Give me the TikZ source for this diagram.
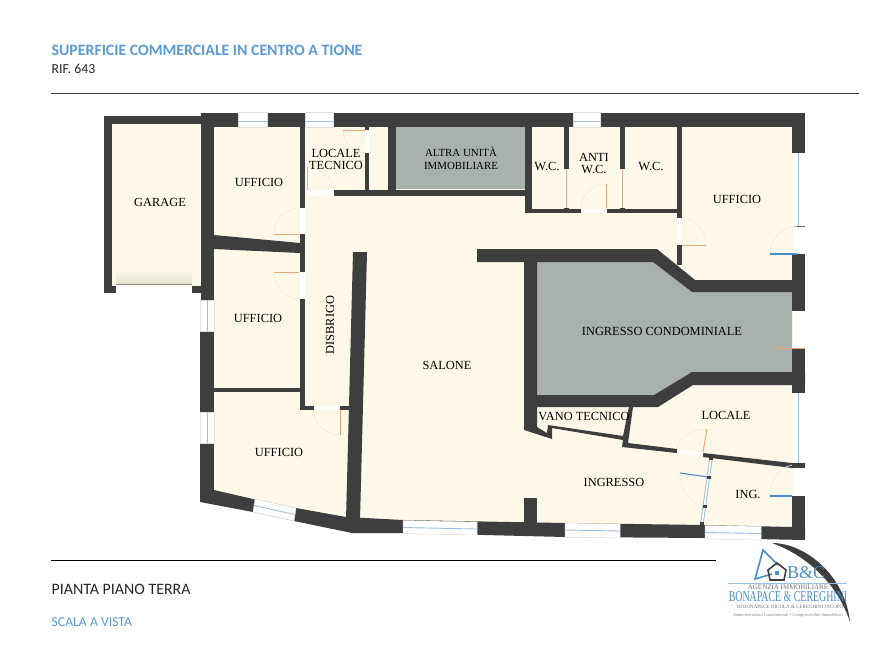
\documentclass[tikz,border=0pt]{standalone}
\usepackage{fontspec}
\setmainfont{Liberation Serif}
\newfontfamily\headfont{Carlito}
\usetikzlibrary{positioning}
\definecolor{wallgray}{HTML}{3E3E3E}
\definecolor{floorcream}{HTML}{FDF8E8}
\definecolor{roomgray}{HTML}{A9B1AC}
\definecolor{doororange}{HTML}{E8A878}
\definecolor{glassblue}{HTML}{9CC0E0}
\definecolor{doorblue}{HTML}{4A8CCB}
\definecolor{headblue}{HTML}{5B9BD5}
\definecolor{swingtan}{HTML}{F1EEDC}
\definecolor{shuttercream}{HTML}{E4E2CE}
\tikzset{
  wall/.style={fill=wallgray},
  windowpane/.style={fill=white,draw=black!12,line width=0.5pt},
  glassline/.style={draw=glassblue,line width=0.9pt},
  opening/.style={fill=white},
  leaf/.style={draw=doororange,line width=1pt},
  blueleaf/.style={draw=doorblue,line width=1.1pt},
  swing/.style={draw=swingtan,line width=0.7pt},
  roomlabel/.style={font=\fontsize{12.4}{12.6}\selectfont,text=black,align=center,inner sep=0pt},
  headtext/.style={font=\headfont\fontsize{#1}{#1}\selectfont,anchor=west,inner sep=0pt}
}
\begin{document}
\begin{tikzpicture}[x=1pt,y=-1pt]
\useasboundingbox (0,0) rectangle (893,670);

\fill[floorcream] (104,116) -- (201,116) -- (201,113) -- (805,113) -- (805,540) -- (705,538) -- (352,533) -- (294,521) -- (253,512) -- (200,502) -- (200,300) -- (201,293) -- (104,293) -- cycle;
\shade[top color=floorcream,bottom color=shuttercream] (116,270) rectangle (192,284);
\draw[black!45,line width=0.6pt] (116,284.5) -- (192,284.5);

% grey rooms
\fill[roomgray] (396,127) rectangle (525,189);
\fill[roomgray] (537,262) -- (653,262) -- (692,292) -- (792,292) -- (792,372) -- (692,372) -- (654,395) -- (537,395) -- cycle;

% outer walls
\fill[wall] (104,116) rectangle (201,124);
\fill[wall] (104,116) rectangle (112,293);
\fill[wall] (104,286) rectangle (116,293);
\fill[wall] (192,286) rectangle (201,293);
\fill[wall] (201,113) rectangle (214,300);
\fill[wall] (201,113) rectangle (805,127);
\fill[wall] (792,113) rectangle (805,153);
\fill[wall] (792,254) rectangle (805,311);
\fill[wall] (792,348) rectangle (805,393);
\fill[wall] (792,496) rectangle (805,540);
\fill[wall] (200,300) rectangle (214,502);
\fill[wall] (200,490) -- (214,490) -- (253,499) -- (296,508) -- (346,517) -- (403,520) -- (565,523) -- (705,525) -- (792,527) -- (805,527) -- (805,540) -- (705,538) -- (565,537) -- (403,533) -- (352,533) -- (294,521) -- (253,512) -- (200,502) -- cycle;

% inner walls
\fill[wall] (214,235) -- (300,243) -- (300,253) -- (214,249) -- cycle;
\fill[wall] (214,388) rectangle (300,392);
\fill[wall] (300,127) rectangle (304.5,410);
\fill[wall] (300,406) rectangle (314,410);
\fill[wall] (340,406) rectangle (352,410);
\fill[wall] (353,252) -- (367,252) -- (360,520) -- (346,520) -- cycle;
\fill[wall] (334,190) rectangle (527,196);
\fill[wall] (365,127) rectangle (369,196);
\fill[wall] (388,127) rectangle (396,196);
\fill[wall] (525,127) rectangle (532,213);
\fill[wall] (525,208.5) rectangle (680,213);
\fill[wall] (564,127) rectangle (569,208.5);
\fill[wall] (620,127) rectangle (624.5,208.5);
\fill[wall] (677,127) rectangle (682,265);
\fill[wall] (477,249) -- (657,249) -- (695,280) -- (792,280) -- (792,292) -- (692,292) -- (653,262) -- (537,262) -- (537,427) -- (547,433) -- (548,425) -- (623,436) -- (629,407) -- (633,407) -- (628,443) -- (677,449) -- (677,453) -- (622,447) -- (623,440) -- (552,428) -- (552,439) -- (524,430) -- (524,262) -- (477,262) -- cycle;
\fill[wall] (537,395) -- (654,395) -- (692,372) -- (805,372) -- (805,385) -- (693,385) -- (658,407) -- (537,407) -- cycle;
\fill[wall] (703,453) -- (792,463) -- (805,463) -- (805,468) -- (792,468) -- (703,457) -- cycle;
\fill[wall] (524,498) rectangle (537,524);

% windows
\foreach \xa/\xb in {238/267,305/333,573/600} {
  \draw[windowpane] (\xa,112.5) rectangle (\xb,127);
  \draw[glassline] (\xa,121) -- (\xb,121);
}
\foreach \ya/\yb in {300/331,412/443} {
  \draw[windowpane] (200,\ya) rectangle (214,\yb);
  \draw[glassline] (207,\ya) -- (207,\yb);
}
\foreach \ya/\yb in {153/226,393/463} {
  \fill[white] (793,\ya) rectangle (806,\yb);
  \draw[glassline] (798,\ya) -- (798,\yb);
}
\draw[windowpane] (403,520.5) -- (477,522) -- (477,535) -- (403,533.5) -- cycle;
\draw[glassline] (403,527.5) -- (477,529);
\draw[windowpane] (565,523) -- (620,524) -- (620,538) -- (565,537) -- cycle;
\draw[glassline] (565,530) -- (620,531);
\draw[windowpane] (705,525.5) -- (761,526.5) -- (761,540) -- (705,539) -- cycle;
\draw[glassline] (705,532.5) -- (761,533.5);
\draw[windowpane] (255,499) -- (296,508) -- (294,521) -- (253,512) -- cycle;
\draw[glassline] (254,505.5) -- (295,514.5);

% openings and doors
\fill[white] (116,285.5) rectangle (192,293);
\fill[opening] (300,208) rectangle (304.5,234);
\fill[opening] (300,272) rectangle (304.5,299);
\fill[opening] (307,190) rectangle (334,196);
\fill[opening] (365,130) rectangle (369,153);
\fill[opening] (314,406) rectangle (340,410);
\fill[opening] (581,208.5) rectangle (607,213);
\fill[opening] (677,218) rectangle (682,245);
\fill[opening] (564,169) rectangle (569,208);
\fill[opening] (620,169) rectangle (624.5,208);
\fill[opening] (677,449) -- (703,453) -- (703,457) -- (677,453) -- cycle;
\fill[white] (793,226) rectangle (806,254);
\fill[white] (793,311) rectangle (806,348);
\fill[white] (793,468) rectangle (806,496);
\draw[black!60,line width=0.6pt] (792,226) -- (805,226);

\draw[swing] (274,234) .. controls (274,220) and (285,208) .. (299,208);
\draw[swing] (274,272) .. controls (274,286) and (285,299) .. (299,299);
\draw[swing] (307,167) .. controls (320,167) and (334,178) .. (334,190);
\draw[swing] (343,130) .. controls (343,142) and (353,153) .. (365,153);
\draw[swing] (581,208) .. controls (581,195) and (592,184) .. (606,184);
\draw[swing] (706,245) .. controls (706,230) and (695,218) .. (682,218);
\draw[swing] (770,254) .. controls (770,240) and (782,226) .. (797,226);
\draw[swing] (314,410) .. controls (314,424) and (326,435) .. (340,435);
\draw[swing] (677,449) .. controls (678,437) and (692,429) .. (707,429);
\draw[swing] (770,496) .. controls (770,481) and (778,468) .. (792,465);
\draw[swing] (680,473) .. controls (680,487) and (686,498) .. (697,503);

\draw[leaf] (274,234) -- (299,234);
\draw[leaf] (274,272) -- (299,272);
\draw[leaf] (307,167) -- (307,190);
\draw[leaf] (343,130) -- (365,130);
\draw[leaf] (606.5,184) -- (606.5,208);
\draw[leaf] (682,245) -- (706,245);
\draw[leaf] (340,410) -- (340,435);
\draw[leaf] (703,452) -- (707,429);
\draw[leaf] (566.5,169) -- (566.5,208);
\draw[leaf] (622,169) -- (622,208);
\draw[leaf] (772,348) -- (805,348);
\draw[blueleaf] (770,254) -- (797,254);
\draw[blueleaf] (770,496) -- (792,496);
\draw[blueleaf] (680,473) -- (708,477);

% glass partition
\draw[glassline,line width=3.5pt] (711,458) -- (702,523);
\draw[white,line width=1.6pt] (711,458) -- (702,523);
\foreach \px/\py in {711/458,708.5/477,704.5/506,702/523} {
  \fill[wall] (\px-2,\py-1.5) rectangle (\px+2,\py+1.5);
}

% labels
\node[roomlabel] (garage) at (160,202.5) {GARAGE};
\node[roomlabel] (ufficioa) at (259,182.5) {UFFICIO};
\node[roomlabel] (tecnico) at (336,159.5) {LOCALE\\TECNICO};
\node[roomlabel,font=\fontsize{10.9}{12.6}\selectfont] (altra) at (461,158.5) {ALTRA UNITÀ\\IMMOBILIARE};
\node[roomlabel] (wca) at (547,166) {W.C.};
\node[roomlabel] (anti) at (594,163.5) {ANTI\\W.C.};
\node[roomlabel] (wcb) at (651,166) {W.C.};
\node[roomlabel] (ufficiob) at (737,199) {UFFICIO};
\node[roomlabel] (ufficioc) at (258,318.5) {UFFICIO};
\node[roomlabel,rotate=90] (disbrigo) at (330,325) {DISBRIGO};
\node[roomlabel] (salone) at (447,365.5) {SALONE};
\node[roomlabel] (condo) at (662,331) {INGRESSO CONDOMINIALE};
\node[roomlabel] (vano) at (584,416) {VANO TECNICO};
\node[roomlabel] (locale) at (726,415.5) {LOCALE};
\node[roomlabel] (ingresso) at (614,482.5) {INGRESSO};
\node[roomlabel] (ing) at (748,494) {ING.};
\node[roomlabel] (ufficiod) at (279,452) {UFFICIO};

% header and footer
\draw[wallgray,line width=1pt] (51,93) -- (859,93);
\draw[black,line width=1pt] (51,560) -- (716,560);
\node[headtext=15.8,text=headblue,font=\bfseries\headfont\fontsize{15.8}{15.8}\selectfont] (title) at (51.5,50) {SUPERFICIE COMMERCIALE IN CENTRO A TIONE};
\node[headtext=13.8,text=black!85] (rif) at (51.5,68.5) {RIF. 643};
\node[headtext=15.9,text=black!85] (pianta) at (51.5,589) {PIANTA PIANO TERRA};
\node[headtext=13.7,text=headblue] (scala) at (51.5,622.5) {SCALA A VISTA};

% logo
\fill[wallgray] (772,543) .. controls (805,543) and (845,575) .. (850,622) .. controls (838,585) and (808,556) .. (772,543) -- cycle;
\draw[doorblue,line width=1.6pt] (772,574) -- (755,579) -- (763,550) -- (778,565);
\draw[wallgray,line width=1.6pt] (777,563) -- (786,570) -- (784,580) -- (770,580) -- (768,570) -- cycle;
\fill[doorblue] (775,571) rectangle (779,575);
\node[inner sep=0pt,text=doorblue,font=\fontsize{18}{18}\selectfont] (logob) at (806,573) {B\&C};
\draw[glassblue,line width=0.5pt] (728,583) -- (847,583);
\node[inner sep=0pt,text=black!55,font=\fontsize{7}{7}\selectfont] (logoa) at (788,587) {AGENZIA IMMOBILIARE};
\node[inner sep=0pt,text=doorblue,xscale=0.66,font=\fontsize{15}{15}\selectfont] (logoc) at (788,597) {BONAPACE \& CEREGHINI};
\node[inner sep=0pt,text=black!55,font=\fontsize{5}{5}\selectfont] (logod) at (790,607) {DI BONAPACE NICOLA \& CEREGHINI JACOPO};
\node[inner sep=0pt,text=black!50,font=\itshape\fontsize{4.5}{4.5}\selectfont] (logoe) at (788,615) {Amministrazioni Condominiali • Compravendite Immobiliari};
\end{tikzpicture}
\end{document}
